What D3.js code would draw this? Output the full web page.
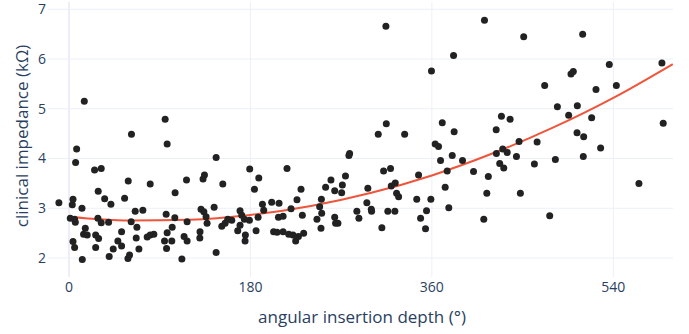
<!DOCTYPE html>
<html lang="en">
<head>
    <meta charset="UTF-8">
    <title>Impedance vs insertion depth</title>
    <script src="https://d3js.org/d3.v7.min.js"></script>
    <style>
        body {
            margin: 0;
            padding: 0;
            background: #fff;
            font-family: 'Open Sans', sans-serif;
        }
        .grid line {
            stroke: #ebf0f8;
            stroke-width: 1;
        }
        .tick-label {
            fill: #2a3f5f;
            font-size: 14px;
        }
        .axis-title {
            fill: #2a3f5f;
            font-size: 17px;
        }
    </style>
</head>
<body>
    <div id="chart"></div>

    <script>
        // measured points: [angular insertion depth (deg), clinical impedance (kOhm)]
        const depths = [
            -10, 7.6, 6.6, 4, 3.3, 1.3, 5.6, 6.3, 12.9, 4, 5.6, 13.2, 16.2, 14.5, 18.1, 25.4, 32, 29, 35.4, 41.6,
            28.7, 32, 26.5, 29.4, 26.5, 39.3, 39.9, 43.9, 48.5, 52.2, 52.2, 58.8, 55.2, 65.7, 73.3, 61.7, 67.4, 66.7, 69.4, 60.1,
            58.5, 80.6, 97.4, 77.6, 80.6, 84.2, 96.4, 105, 105.3, 116.6, 102.4, 97.4, 94.8, 102, 96.8, 112, 114.2, 117.2, 117.2, 134.4,
            133, 146, 152.6, 131, 133.8, 136, 137, 144, 130, 129.8, 146, 151.6, 154.9, 157.5, 161.5, 169.7, 171.4, 174, 167.4, 169.7,
            175, 174.7, 179.3, 184, 179, 185.6, 62, 15.2, 95.4,
            188.3, 187.6, 191.9, 193.2, 201.1, 208.4, 207.8, 212.4, 216.3, 220.3, 226.2, 230.2, 231.5, 203, 206.4, 212.4, 218, 222.2, 224.9, 227.6,
            232.8, 246, 248.7, 250.4, 250.7, 250, 254.6, 259.9, 263.6, 263.6, 264.5, 266.8, 271.2, 270.5, 274.3, 277.7, 278.4, 285.6, 287.6, 295.5,
            296.5, 299.9, 300.2, 306.8, 314.8, 310.4, 312.1, 316.3, 319, 319.7, 323.7, 323.3, 325, 327, 333, 345, 346.8, 348.8, 353.7, 354.7,
            359, 363.3, 366.6, 368.6, 370.3, 373.2, 375.2, 376.8, 314.4, 359.6,
            412.2, 381.5, 451.1, 509.6, 471.9, 498, 500.3, 536, 588.2, 543, 522.8, 484.5, 504.3, 495.7, 518.5, 429, 437.6, 423.8, 382.1, 589.5,
            504, 510.6, 446.5, 464.4, 527.4, 510.2, 482.5, 461.7, 443.9, 430.3, 434.7, 424, 427.3, 431.3, 380.2, 390.4, 401.3, 416, 414.5, 411.5,
            447.8, 476.9, 565.4
        ];
        const impedances = [
            3.11, 4.19, 3.92, 3.18, 3.07, 2.80, 2.78, 2.72, 3.00, 2.33, 2.21, 1.97, 2.60, 2.48, 2.46, 3.77, 3.80, 3.34, 3.19, 3.08,
            2.80, 2.71, 2.46, 2.39, 2.21, 2.72, 2.03, 2.18, 2.34, 2.53, 2.24, 3.55, 3.20, 2.94, 2.96, 2.73, 2.62, 2.40, 2.18, 2.06,
            1.99, 3.49, 4.29, 2.42, 2.46, 2.48, 2.88, 2.81, 3.31, 3.57, 2.62, 2.51, 2.34, 2.34, 2.19, 1.98, 2.43, 2.34, 2.73, 3.67,
            3.59, 4.02, 3.49, 2.98, 2.93, 2.83, 2.70, 3.02, 2.53, 2.40, 2.11, 2.64, 2.70, 2.78, 2.76, 2.95, 2.86, 2.78, 2.55, 2.66,
            2.46, 2.34, 3.79, 3.38, 2.76, 2.55, 4.49, 5.15, 4.79,
            3.61, 2.82, 3.08, 2.96, 3.12, 3.10, 2.82, 2.84, 3.80, 2.99, 3.17, 3.38, 2.86, 2.53, 2.52, 2.53, 2.48, 2.46, 2.34, 2.43,
            2.50, 2.78, 3.03, 3.18, 2.90, 2.60, 3.42, 3.57, 3.35, 2.82, 2.70, 2.70, 3.47, 3.31, 3.65, 4.06, 4.10, 2.94, 2.80, 3.11,
            3.40, 2.98, 2.94, 4.49, 4.70, 2.61, 3.75, 2.94, 3.80, 3.45, 3.51, 2.94, 3.30, 3.23, 4.49, 3.18, 3.67, 2.80, 2.59, 2.95,
            3.18, 4.29, 4.24, 3.96, 4.72, 3.42, 3.75, 3.01, 6.66, 5.76,
            6.78, 6.07, 6.45, 6.50, 5.47, 5.70, 5.75, 5.89, 5.92, 5.47, 5.39, 5.04, 5.06, 4.87, 4.82, 4.85, 4.79, 4.58, 4.54, 4.71,
            4.52, 4.44, 4.34, 4.33, 4.21, 4.04, 3.98, 3.89, 4.04, 4.19, 4.12, 4.10, 3.90, 3.81, 4.06, 3.96, 3.74, 3.64, 3.30, 2.78,
            3.30, 2.85, 3.50
        ];

        // trend line
        const trendDepths = [0, 60, 120, 180, 240, 300, 360, 420, 480, 540, 599];
        const trendValues = [2.83, 2.755, 2.77, 2.865, 3.045, 3.31, 3.66, 4.10, 4.62, 5.22, 5.90];

        const xTicks = [0, 180, 360, 540];
        const yTicks = [2, 3, 4, 5, 6, 7];

        const width = 689, height = 334;
        const margin = { top: 2, right: 16, bottom: 57, left: 48 };

        const svg = d3.select("#chart")
            .append("svg")
            .attr("width", width)
            .attr("height", height);

        const x = d3.scaleLinear()
            .domain([-20.8, 599.2])
            .range([margin.left, width - margin.right]);

        const y = d3.scaleLinear()
            .domain([1.618, 7.147])
            .range([height - margin.bottom, margin.top]);

        // grid
        const grid = svg.append("g").attr("class", "grid");
        grid.selectAll("line.v")
            .data(xTicks)
            .enter().append("line")
            .attr("class", "v")
            .attr("x1", d => x(d)).attr("x2", d => x(d))
            .attr("y1", margin.top).attr("y2", height - margin.bottom)
            .style("stroke-width", d => d === 0 ? 2 : 1);
        grid.selectAll("line.h")
            .data(yTicks)
            .enter().append("line")
            .attr("class", "h")
            .attr("x1", margin.left).attr("x2", width - margin.right)
            .attr("y1", d => y(d)).attr("y2", d => y(d));

        // tick labels
        svg.append("g").selectAll("text")
            .data(xTicks)
            .enter().append("text")
            .attr("class", "tick-label")
            .attr("x", d => x(d))
            .attr("y", 292)
            .attr("text-anchor", "middle")
            .text(d => d);

        svg.append("g").selectAll("text")
            .data(yTicks)
            .enter().append("text")
            .attr("class", "tick-label")
            .attr("x", margin.left - 2)
            .attr("y", d => y(d))
            .attr("dy", "0.35em")
            .attr("text-anchor", "end")
            .text(d => d);

        // axis titles
        svg.append("text")
            .attr("class", "axis-title")
            .attr("x", 362)
            .attr("y", 323)
            .attr("text-anchor", "middle")
            .text("angular insertion depth (°)");

        svg.append("text")
            .attr("class", "axis-title")
            .attr("transform", "translate(28,136) rotate(-90)")
            .attr("text-anchor", "middle")
            .text("clinical impedance (kΩ)");

        // trend line
        const trend = trendDepths.map((d, i) => [d, trendValues[i]]);
        svg.append("path")
            .datum(trend)
            .attr("fill", "none")
            .attr("stroke", "#ef553b")
            .attr("stroke-width", 2)
            .attr("d", d3.line()
                .x(d => x(d[0]))
                .y(d => y(d[1]))
                .curve(d3.curveMonotoneX));

        // scatter
        const points = depths.map((d, i) => [d, impedances[i]]);
        svg.append("g").selectAll("circle")
            .data(points)
            .enter().append("circle")
            .attr("cx", d => x(d[0]))
            .attr("cy", d => y(d[1]))
            .attr("r", 3.5)
            .attr("fill", "#222");
    </script>
</body>
</html>
